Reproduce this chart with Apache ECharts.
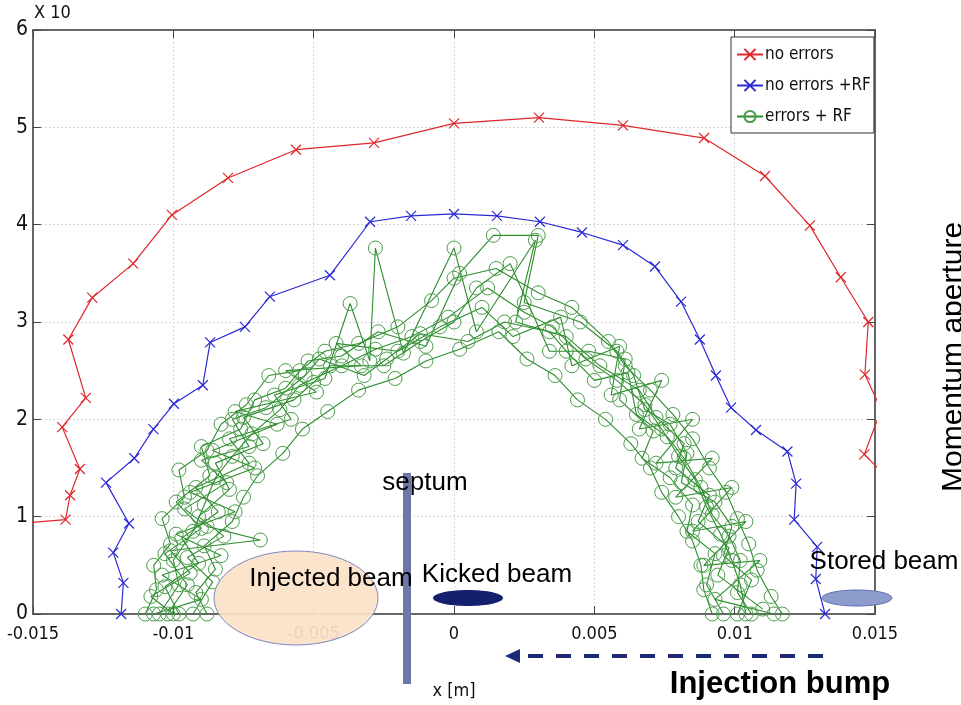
<!DOCTYPE html>
<html><head><meta charset="utf-8">
<script src="https://cdn.jsdelivr.net/npm/echarts@6/dist/echarts.min.js"></script>
<style>html,body{margin:0;padding:0;background:#fff}#c{width:961px;height:705px}</style>
</head><body><div id="c"></div>
<script>
// ---- data ----
const seriesNames = ['no errors', 'no errors +RF', 'errors + RF'];
const xTickLabels = ['-0.015','-0.01','-0.005','0','0.005','0.01','0.015'];
const yTickLabels = ['0','1','2','3','4','5','6'];

const noErrors = [[-0.0160,0.92],[-0.01384,0.97],[-0.01368,1.22],[-0.01333,1.49],[-0.01396,1.92],[-0.01312,2.22],[-0.01374,2.82],[-0.01289,3.25],[-0.01143,3.60],[-0.01005,4.10],[-0.00805,4.48],[-0.00563,4.77],[-0.00285,4.84],[0.0000,5.04],[0.00303,5.10],[0.00602,5.02],[0.00891,4.89],[0.01108,4.50],[0.01268,3.99],[0.01378,3.46],[0.01476,3.00],[0.01464,2.46],[0.01522,2.10],[0.01462,1.64],[0.01580,1.30]];

const noErrorsRF = [[-0.01186,0.00],[-0.01178,0.32],[-0.01214,0.63],[-0.01158,0.93],[-0.01240,1.35],[-0.01139,1.60],[-0.01071,1.90],[-0.00998,2.16],[-0.00895,2.35],[-0.00869,2.79],[-0.00745,2.95],[-0.00656,3.26],[-0.00442,3.48],[-0.00299,4.03],[-0.00153,4.09],[0.0000,4.11],[0.00153,4.09],[0.00306,4.03],[0.00456,3.92],[0.00602,3.79],[0.00716,3.57],[0.00809,3.21],[0.00876,2.82],[0.00933,2.45],[0.00987,2.12],[0.01076,1.89],[0.01188,1.67],[0.01219,1.34],[0.01212,0.97],[0.01294,0.69],[0.01289,0.36],[0.01322,0.00]];

const errRF_A = [[-0.0105,0.0],[-0.0098,0.3],[-0.0100,0.55],[-0.0093,0.85],[-0.0089,1.12],[-0.0085,1.4],[-0.0079,1.62],[-0.0072,1.85],[-0.0062,2.1],[-0.0055,2.35],[-0.0040,2.55],[-0.0028,2.72],[-0.0015,2.85],[-0.0002,3.05],[0.0012,3.35],[0.0025,3.1],[0.0035,2.95],[0.0047,2.62],[0.0058,2.4],[0.0068,2.15],[0.0074,1.9],[0.0080,1.62],[0.0086,1.38],[0.0090,1.1],[0.0095,0.82],[0.0099,0.55],[0.0102,0.3],[0.0104,0.0]];
const errRF_B = [[-0.0098,0.0],[-0.0103,0.28],[-0.0091,0.52],[-0.0097,0.78],[-0.0084,1.05],[-0.0092,1.3],[-0.0073,1.55],[-0.0080,1.8],[-0.0058,2.0],[-0.0064,2.25],[-0.0046,2.42],[-0.0037,3.19],[-0.0030,2.6],[-0.0028,3.76],[-0.0018,2.68],[0.0000,3.76],[0.0008,2.9],[0.0029,3.84],[0.0022,3.0],[0.0040,2.85],[0.0052,2.55],[0.0066,2.3],[0.0072,2.02],[0.0082,1.75],[0.0079,1.5],[0.0091,1.22],[0.0087,0.95],[0.0098,0.68],[0.0094,0.4],[0.0110,0.05]];
const errRF_C = [[-0.0110,0.0],[-0.0106,0.25],[-0.0107,0.5],[-0.0101,0.72],[-0.0104,0.98],[-0.0096,1.2],[-0.0098,1.48],[-0.0088,1.68],[-0.0083,1.95],[-0.0074,2.15],[-0.0066,2.45],[-0.0055,2.5],[-0.0046,2.7],[-0.0034,2.78],[-0.0020,2.95],[-0.0008,3.22],[0.0000,3.45],[0.0015,3.55],[0.0030,3.3],[0.0042,3.15],[0.0055,2.8],[0.0061,2.55],[0.0070,2.3],[0.0078,2.05],[0.0085,1.8],[0.0091,1.5],[0.0097,1.25],[0.0101,0.98],[0.0105,0.72],[0.0108,0.45],[0.0113,0.18],[0.0117,0.0]];
const errRF_D = [[-0.0088,0.0],[-0.0092,0.22],[-0.0085,0.46],[-0.0089,0.7],[-0.0079,0.95],[-0.0075,1.2],[-0.0070,1.42],[-0.0061,1.65],[-0.0054,1.9],[-0.0045,2.08],[-0.0034,2.3],[-0.0021,2.42],[-0.0010,2.6],[0.0002,2.72],[0.0016,2.9],[0.0026,2.62],[0.0036,2.45],[0.0044,2.2],[0.0054,2.0],[0.0063,1.75],[0.0070,1.5],[0.0074,1.25],[0.0080,1.0],[0.0085,0.75],[0.0088,0.5],[0.0089,0.25],[0.0092,0.0]];
const errRF_E = [[-0.0102,0.0],[-0.0095,0.3],[-0.0103,0.62],[-0.0090,0.88],[-0.0099,1.15],[-0.0087,1.42],[-0.0090,1.72],[-0.0076,1.9],[-0.0071,2.2],[-0.0060,2.32],[-0.0052,2.6],[-0.0040,2.65],[-0.0027,2.9],[-0.0010,2.75],[0.0002,3.5],[0.0014,3.89],[0.0030,3.89],[0.0025,3.2],[0.0045,3.0],[0.0058,2.7],[0.0064,2.45],[0.0068,2.1],[0.0077,1.95],[0.0083,1.65],[0.0081,1.35],[0.0093,1.15],[0.0099,0.9],[0.0096,0.6],[0.0106,0.35],[0.0101,0.0]];
const errRF_F = [[-0.0093,0.0],[-0.0086,0.33],[-0.0095,0.58],[-0.0082,0.8],[-0.0091,1.0],[-0.0080,1.28],[-0.0085,1.55],[-0.0068,1.75],[-0.0075,2.02],[-0.0057,2.2],[-0.0050,2.38],[-0.0044,2.55],[-0.0025,2.55],[-0.0012,2.8],[0.0000,3.0],[0.0008,3.35],[0.0020,3.6],[0.0034,2.7],[0.0048,2.7],[0.0061,2.62],[0.0059,2.2],[0.0071,1.88],[0.0067,1.6],[0.0077,1.4],[0.0085,1.12],[0.0083,0.85],[0.0093,0.62],[0.0090,0.3],[0.0096,0.0]];
const errRF_G = [[-0.0107,0.0],[-0.0090,0.15],[-0.0104,0.4],[-0.0083,0.6],[-0.0099,0.82],[-0.0078,1.05],[-0.0094,1.25],[-0.0071,1.5],[-0.0086,1.68],[-0.0063,1.95],[-0.0078,2.08],[-0.0049,2.28],[-0.0060,2.5],[-0.0033,2.55],[-0.0042,2.78],[-0.0020,2.7],[-0.0005,2.95],[0.0010,3.15],[0.0021,2.85],[0.0038,3.05],[0.0042,2.55],[0.0059,2.75],[0.0056,2.25],[0.0074,2.4],[0.0066,1.9],[0.0085,2.0],[0.0072,1.55],[0.0092,1.6],[0.0079,1.2],[0.0099,1.3],[0.0085,0.85],[0.0104,0.95],[0.0089,0.5],[0.0109,0.55],[0.0093,0.15],[0.0114,0.0]];
const errRF_H = [[-0.0100,0.0],[-0.0108,0.18],[-0.0094,0.42],[-0.0101,0.65],[-0.0069,0.76],[-0.0088,0.9],[-0.0096,1.08],[-0.0081,1.35],[-0.0090,1.58],[-0.0073,1.72],[-0.0079,2.0],[-0.0067,2.12],[-0.0053,2.45],[-0.0048,2.62],[-0.0032,2.45],[-0.0024,2.62],[-0.0012,2.88],[0.0005,2.8],[0.0018,3.0],[0.0034,2.9],[0.0040,2.7],[0.0050,2.4],[0.0062,2.48],[0.0065,2.05],[0.0076,1.82],[0.0082,1.6],[0.0088,1.3],[0.0092,1.02],[0.0098,0.8],[0.0102,0.55],[0.0101,0.22],[0.0106,0.0]];
const errRFSeeds = [errRF_A, errRF_B, errRF_C, errRF_D, errRF_E, errRF_F, errRF_G, errRF_H];

// ---- chart ----
const tickFont = "'Liberation Sans Narrow','DejaVu Sans Condensed','Liberation Sans',sans-serif";
const annFont = "'Liberation Sans',Arial,sans-serif";
const RED = '#e0262b', BLUE = '#2a2ad4', GREEN = '#2c8c2c';
const cross = 'path://M0,0L10,10M10,0L0,10';
const frameColor = '#666';

const chart = echarts.init(document.getElementById('c'), null, {renderer: 'canvas'});
const fmtX = v => { const i = xTickLabels.map(Number).findIndex(t => Math.abs(t - v) < 1e-9); return i >= 0 ? xTickLabels[i] : ''; };
const fmtY = v => { const i = yTickLabels.map(Number).findIndex(t => Math.abs(t - v) < 1e-9); return i >= 0 ? yTickLabels[i] : ''; };

const grid = {left: 33, right: 86, top: 30, bottom: 91, containLabel: false};
const xBase = {type: 'value', min: -0.015, max: 0.015, interval: 0.005, gridIndex: 0};
const yBase = {type: 'value', min: 0, max: 6, interval: 1, gridIndex: 0};

const series = [
  {name: seriesNames[0], type: 'line', data: noErrors, clip: true, symbol: cross, symbolSize: 10, showAllSymbol: true,
   lineStyle: {color: RED, width: 1.2}, itemStyle: {color: RED, borderColor: RED, borderWidth: 1.2}, z: 3},
  {name: seriesNames[1], type: 'line', data: noErrorsRF, clip: true, symbol: cross, symbolSize: 10, showAllSymbol: true,
   lineStyle: {color: BLUE, width: 1.2}, itemStyle: {color: BLUE, borderColor: BLUE, borderWidth: 1.2}, z: 3}
];
errRFSeeds.forEach(d => series.push({
  name: seriesNames[2], type: 'line', data: d, clip: true, symbol: 'circle', symbolSize: 14, showAllSymbol: true,
  lineStyle: {color: GREEN, width: 1.1},
  itemStyle: {color: 'rgba(255,255,255,0)', borderColor: '#4b9d4b', borderWidth: 1}, z: 2
}));

chart.setOption({
  animation: false,
  backgroundColor: '#fff',
  grid: grid,
  legend: {
    data: seriesNames, orient: 'vertical', left: 731, top: 37,
    backgroundColor: '#fff', borderColor: '#333', borderWidth: 1,
    padding: [9, 3, 8, 5], itemGap: 14, itemWidth: 26, itemHeight: 14,
    textStyle: {fontFamily: tickFont, fontSize: 17, color: '#111', padding: [0,0,0,-3]}
  },
  xAxis: [
    Object.assign({}, xBase, {position: 'bottom',
      axisLine: {show: true, onZero: false, lineStyle: {color: frameColor, width: 2}},
      axisTick: {show: true, inside: true, length: 8, lineStyle: {color: '#444'}},
      axisLabel: {formatter: fmtX, fontFamily: tickFont, fontSize: 18, color: '#111', margin: 11},
      splitLine: {show: true, lineStyle: {color: '#d8d8d8', type: [2, 2]}},
      name: 'x [m]', nameLocation: 'middle', nameGap: 68,
      nameTextStyle: {fontFamily: tickFont, fontSize: 18, color: '#111'}}),
    Object.assign({}, xBase, {position: 'top',
      axisLine: {show: true, onZero: false, lineStyle: {color: frameColor, width: 2}},
      axisTick: {show: true, inside: true, length: 8, lineStyle: {color: '#444'}},
      axisLabel: {show: false}, splitLine: {show: false}})
  ],
  yAxis: [
    Object.assign({}, yBase, {position: 'left',
      axisLine: {show: true, onZero: false, lineStyle: {color: frameColor, width: 2}},
      axisTick: {show: true, inside: true, length: 8, lineStyle: {color: '#444'}},
      axisLabel: {formatter: fmtY, fontFamily: tickFont, fontSize: 21, color: '#111', margin: 5},
      splitLine: {show: true, lineStyle: {color: '#d8d8d8', type: [2, 2]}}}),
    Object.assign({}, yBase, {position: 'right',
      axisLine: {show: true, onZero: false, lineStyle: {color: frameColor, width: 2}},
      axisTick: {show: true, inside: true, length: 8, lineStyle: {color: '#444'}},
      axisLabel: {show: false}, splitLine: {show: false}})
  ],
  series: series,
  graphic: [
    {type: 'text', left: 34, top: 4, style: {text: 'X 10', font: '18px ' + tickFont, fill: '#111'}},
    // injected beam
    {type: 'ellipse', shape: {cx: 296, cy: 598, rx: 82, ry: 47}, z: 100,
     style: {fill: 'rgba(252,226,200,0.93)', stroke: '#7d86c0', lineWidth: 1}},
    {type: 'text', x: 331, y: 579, z: 101, style: {text: 'Injected beam', font: '26px ' + annFont, fill: '#000', textAlign: 'center', textVerticalAlign: 'middle'}},
    // septum
    {type: 'rect', shape: {x: 403, y: 473, width: 8, height: 211}, z: 100, style: {fill: '#6e78a8'}},
    {type: 'text', x: 425, y: 483, z: 101, style: {text: 'septum', font: '26px ' + annFont, fill: '#000', textAlign: 'center', textVerticalAlign: 'middle'}},
    // kicked beam
    {type: 'ellipse', shape: {cx: 468, cy: 598, rx: 35, ry: 8}, z: 100, style: {fill: '#14206e'}},
    {type: 'text', x: 497, y: 575, z: 101, style: {text: 'Kicked beam', font: '26px ' + annFont, fill: '#000', textAlign: 'center', textVerticalAlign: 'middle'}},
    // stored beam
    {type: 'ellipse', shape: {cx: 857, cy: 598, rx: 35, ry: 8}, z: 100, style: {fill: '#8e9bcd', stroke: '#5f6fb0', lineWidth: 1}},
    {type: 'text', x: 884, y: 562, z: 101, style: {text: 'Stored beam', font: '26px ' + annFont, fill: '#000', textAlign: 'center', textVerticalAlign: 'middle'}},
    // injection bump arrow
    {type: 'line', shape: {x1: 823, y1: 656, x2: 520, y2: 656}, z: 100, style: {stroke: '#1a2a78', lineWidth: 4, lineDash: [15, 13]}},
    {type: 'polygon', shape: {points: [[505, 656], [520, 649], [520, 663]]}, z: 100, style: {fill: '#1a2a78'}},
    {type: 'text', x: 780, y: 684, z: 101, style: {text: 'Injection bump', font: 'bold 31px ' + annFont, fill: '#000', textAlign: 'center', textVerticalAlign: 'middle'}},
    // right-side rotated label (cut at edge)
    {type: 'text', x: 969, y: 492, rotation: Math.PI / 2, z: 101,
     style: {text: 'Momentum aperture', font: '30px ' + annFont, fill: '#000', textAlign: 'left', textVerticalAlign: 'bottom'}}
  ]
});
</script></body></html>
